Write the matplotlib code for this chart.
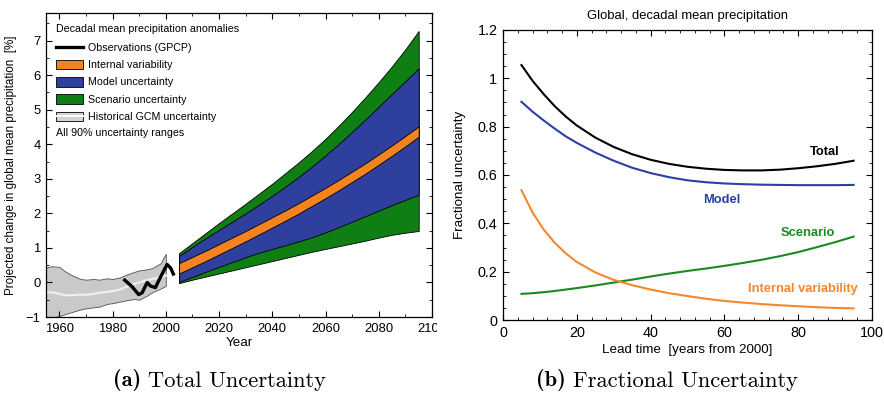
import matplotlib
matplotlib.use('Agg')
import matplotlib.pyplot as plt
from matplotlib.lines import Line2D
from matplotlib.patches import Patch
from matplotlib.ticker import MultipleLocator, FormatStrFormatter
from matplotlib.transforms import Bbox, TransformedBbox

plt.rcParams['font.family'] = ['Liberation Sans', 'DejaVu Sans']

# ===== COLOURS =====
ORANGE = '#F38321'
BLUE = '#2E3F9E'
GREEN = '#0F7F14'
GRAY = '#C9C9C9'
LINE_BLUE = '#2B3FA6'
LINE_GREEN = '#1A8A1F'
LINE_ORANGE = '#F7872A'

# ===== (a) historical GCM band and observations =====
hist_years = [1955, 1957, 1960, 1962, 1965, 1968, 1970, 1973, 1975, 1978,
              1980, 1983, 1985, 1988, 1990, 1993, 1995, 1998, 2000]
hist_upper = [0.43, 0.47, 0.45, 0.33, 0.20, 0.10, 0.08, 0.10, 0.08, 0.12,
              0.10, 0.15, 0.22, 0.30, 0.35, 0.38, 0.42, 0.55, 0.83]
hist_lower = [-1.05, -1.02, -0.97, -0.92, -0.85, -0.78, -0.75, -0.72, -0.70, -0.62,
              -0.60, -0.55, -0.52, -0.48, -0.50, -0.38, -0.28, -0.18, -0.10]
hist_mean = [-0.30, -0.28, -0.33, -0.37, -0.37, -0.35, -0.36, -0.33, -0.30, -0.27,
             -0.25, -0.20, -0.13, -0.05, 0.00, 0.07, 0.10, 0.15, 0.20]

obs_years = [1984.1, 1987.3, 1989.8, 1991.1, 1993.0, 1994.2, 1996.1, 1997.4,
             1999.3, 2000.5, 2001.8, 2003.1]
obs_values = [0.10, -0.12, -0.35, -0.30, 0.00, -0.10, -0.15, 0.06,
              0.35, 0.52, 0.42, 0.20]

# ===== (a) projections =====
proj_years = [2005, 2010, 2015, 2020, 2025, 2030, 2035, 2040, 2045, 2050,
              2055, 2060, 2065, 2070, 2075, 2080, 2085, 2090, 2095]
scen_upper = [0.85, 1.14, 1.43, 1.72, 2.00, 2.28, 2.57, 2.86, 3.17, 3.48,
              3.81, 4.16, 4.54, 4.94, 5.36, 5.80, 6.26, 6.75, 7.28]
model_upper = [0.77, 1.03, 1.28, 1.52, 1.76, 2.00, 2.25, 2.51, 2.78, 3.06,
               3.36, 3.68, 4.01, 4.36, 4.72, 5.09, 5.46, 5.83, 6.20]
int_upper = [0.56, 0.74, 0.92, 1.11, 1.30, 1.49, 1.69, 1.89, 2.09, 2.30,
             2.52, 2.74, 2.97, 3.21, 3.45, 3.71, 3.97, 4.24, 4.52]
int_lower = [0.26, 0.44, 0.62, 0.81, 1.00, 1.19, 1.39, 1.59, 1.79, 2.00,
             2.22, 2.44, 2.67, 2.91, 3.15, 3.41, 3.67, 3.94, 4.22]
model_lower = [0.02, 0.16, 0.31, 0.45, 0.59, 0.73, 0.86, 0.97, 1.08, 1.19,
               1.31, 1.45, 1.60, 1.76, 1.92, 2.08, 2.24, 2.39, 2.54]
scen_lower = [-0.02, 0.08, 0.17, 0.26, 0.35, 0.44, 0.53, 0.62, 0.71, 0.80,
              0.89, 0.97, 1.05, 1.13, 1.21, 1.30, 1.38, 1.44, 1.49]

# ===== (b) fractional uncertainty =====
lead_time = [5, 8, 11, 14, 17, 20, 25, 30, 35, 40, 45, 50, 55, 60, 65, 70, 75, 80, 85, 90, 95]
frac_total = [1.055, 0.990, 0.935, 0.885, 0.842, 0.805, 0.755, 0.716, 0.686, 0.663, 0.646,
              0.634, 0.626, 0.621, 0.619, 0.619, 0.622, 0.628, 0.636, 0.646, 0.659]
frac_model = [0.903, 0.862, 0.826, 0.792, 0.760, 0.733, 0.693, 0.659, 0.630, 0.608, 0.591,
              0.578, 0.570, 0.565, 0.562, 0.560, 0.559, 0.558, 0.558, 0.558, 0.559]
frac_internal = [0.537, 0.445, 0.375, 0.320, 0.276, 0.240, 0.197, 0.166, 0.144, 0.126, 0.111,
                 0.099, 0.088, 0.079, 0.072, 0.066, 0.061, 0.057, 0.053, 0.050, 0.048]
frac_scenario = [0.108, 0.111, 0.115, 0.120, 0.126, 0.132, 0.143, 0.155, 0.167, 0.180, 0.192,
                 0.203, 0.213, 0.224, 0.236, 0.249, 0.264, 0.281, 0.301, 0.322, 0.345]


def style_axes(ax, size):
    ax.tick_params(which='both', direction='in', top=True, right=True, labelsize=size, pad=4)
    ax.tick_params(which='major', length=4, width=0.8)
    ax.tick_params(which='minor', length=2, width=0.6)
    for s in ax.spines.values():
        s.set_linewidth(0.9)


fig = plt.figure(figsize=(8.84, 3.94), dpi=100)

# --- Panel (a): Total uncertainty ---
ax1 = fig.add_axes([46 / 884, 1 - 317 / 394, 386 / 884, 304 / 394])

ax1.fill_between(hist_years, hist_lower, hist_upper, facecolor=GRAY,
                 edgecolor='#505050', linewidth=0.6)
ax1.plot(hist_years, hist_mean, color='#EEEEEE', lw=1.6)
ax1.plot(obs_years, obs_values, color='black', lw=2.4, solid_capstyle='butt')

ax1.fill_between(proj_years, scen_lower, scen_upper, facecolor=GREEN,
                 edgecolor='black', linewidth=0.6)
ax1.fill_between(proj_years, model_lower, model_upper, facecolor=BLUE,
                 edgecolor='black', linewidth=0.6)
ax1.fill_between(proj_years, int_lower, int_upper, facecolor=ORANGE,
                 edgecolor='black', linewidth=0.6)

ax1.set_xlim(1955, 2100)
ax1.set_ylim(-1, 7.8)
ax1.xaxis.set_major_locator(MultipleLocator(20))
ax1.xaxis.set_minor_locator(MultipleLocator(10))
ax1.yaxis.set_major_locator(MultipleLocator(1))
ax1.yaxis.set_minor_locator(MultipleLocator(0.5))
style_axes(ax1, 9.4)
ax1.set_xlabel('Year', fontsize=9.6, labelpad=2)
ax1.set_ylabel('Projected change in global mean precipitation  [%]', fontsize=8.4, labelpad=6)

handles = [
    Line2D([], [], color='black', lw=2.4),
    Patch(facecolor=ORANGE, edgecolor='black', linewidth=0.6),
    Patch(facecolor=BLUE, edgecolor='black', linewidth=0.6),
    Patch(facecolor=GREEN, edgecolor='black', linewidth=0.6),
    (Patch(facecolor='#D4D4D4', edgecolor='black', linewidth=0.6),
     Line2D([], [], color='white', lw=1.4)),
]
labels = ['Observations (GPCP)', 'Internal variability', 'Model uncertainty',
          'Scenario uncertainty', 'Historical GCM uncertainty']
leg = ax1.legend(handles, labels, loc='upper left', bbox_to_anchor=(0.012, 0.921),
                 frameon=False, fontsize=7.7, handlelength=2.5, handleheight=1.0,
                 handletextpad=0.45, labelspacing=0.64, borderaxespad=0.3,
                 borderpad=0.2)
ax1.text(0.025, 0.947, 'Decadal mean precipitation anomalies', transform=ax1.transAxes,
         fontsize=7.7, ha='left', va='center')
ax1.text(0.025, 0.605, 'All 90% uncertainty ranges', transform=ax1.transAxes,
         fontsize=7.7, ha='left', va='center')

# --- Panel (b): Fractional uncertainty ---
ax2 = fig.add_axes([503 / 884, 1 - 320 / 394, 369 / 884, 290 / 394])
ax2.plot(lead_time, frac_total, color='black', lw=1.5)
ax2.plot(lead_time, frac_model, color=LINE_BLUE, lw=1.5)
ax2.plot(lead_time, frac_scenario, color=LINE_GREEN, lw=1.5)
ax2.plot(lead_time, frac_internal, color=LINE_ORANGE, lw=1.5)

ax2.text(87.3, 0.695, 'Total', color='black', fontsize=9.3, fontweight='bold', ha='center', va='center')
ax2.text(59.3, 0.496, 'Model', color=LINE_BLUE, fontsize=9.3, fontweight='bold', ha='center', va='center')
ax2.text(82.7, 0.36, 'Scenario', color=LINE_GREEN, fontsize=9.3, fontweight='bold', ha='center', va='center')
ax2.text(81.3, 0.128, 'Internal variability', color=LINE_ORANGE, fontsize=9.3,
         fontweight='bold', ha='center', va='center')

ax2.set_xlim(0, 100)
ax2.set_ylim(0, 1.2)
ax2.xaxis.set_major_locator(MultipleLocator(20))
ax2.xaxis.set_minor_locator(MultipleLocator(4))
ax2.yaxis.set_major_locator(MultipleLocator(0.2))
ax2.yaxis.set_minor_locator(MultipleLocator(0.05))
ax2.yaxis.set_major_formatter(FormatStrFormatter('%g'))
style_axes(ax2, 10.4)
ax2.set_xlabel('Lead time  [years from 2000]', fontsize=9.6, labelpad=3)
ax2.set_ylabel('Fractional uncertainty', fontsize=9.6, labelpad=8)
ax2.set_title('Global, decadal mean precipitation', fontsize=9.4, pad=8)

# captions
for x0, tag, text in [(113, '(a)', 'Total Uncertainty'), (536, '(b)', 'Fractional Uncertainty')]:
    t = fig.text(x0 / 884, 1 - 386 / 394, tag, family='cmb10', fontsize=16.2, va='baseline')
    fig.draw_without_rendering()
    ax1.annotate(text, xy=(1, 0), xycoords=t, xytext=(5, 0), textcoords='offset points',
                 family='cmr10', fontsize=16.2, va='bottom', annotation_clip=False)

fig.canvas.draw()
# the left subfigure is cut just right of its axes, so the last year label is cropped
clip = TransformedBbox(Bbox([[0, 0], [437 / 884, 1]]), fig.transFigure)
for lbl in ax1.get_xticklabels():
    lbl.set_clip_box(clip)
    lbl.set_clip_on(True)

fig.savefig('out.png', dpi=100)
